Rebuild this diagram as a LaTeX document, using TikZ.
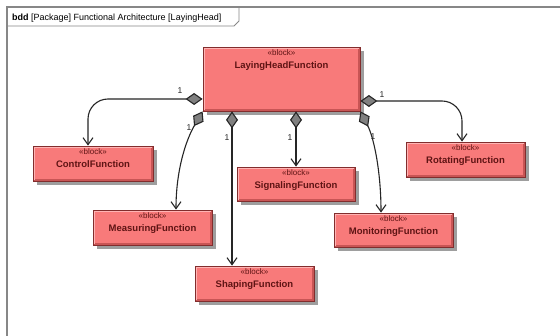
\documentclass[tikz,border=0pt]{standalone}
\usepackage{fontspec}
\setmainfont{Liberation Sans}
\usetikzlibrary{arrows.meta,shadows,calc}
\definecolor{blkfill}{RGB}{248,122,122}
\definecolor{blkdraw}{RGB}{130,45,45}
\definecolor{blktext}{RGB}{95,20,20}
\definecolor{blkhi}{RGB}{255,180,180}
\definecolor{blklo}{RGB}{200,85,85}
\definecolor{framecol}{RGB}{135,135,135}
\tikzset{
  blk/.style={draw=blkdraw, line width=0.8pt, fill=blkfill, inner sep=0pt,
    drop shadow={shadow xshift=4pt, shadow yshift=-4pt, opacity=0.38, fill=black},
    path picture={
      \draw[blklo, line width=1.6pt] ([xshift=1pt,yshift=1pt]path picture bounding box.south west) -| ([xshift=-1pt,yshift=-1pt]path picture bounding box.north east);
      \draw[blkhi, line width=1.6pt] ([xshift=1pt,yshift=1pt]path picture bounding box.south west) |- ([xshift=-1pt,yshift=-1pt]path picture bounding box.north east);
    }},
  blabel/.style={anchor=north, align=center, text=blktext, inner sep=0pt},
  comp/.style={draw=black!85, line width=1.1pt,
    {Diamond[length=17pt,width=12pt,fill=black!50]}-{Straight Barb[length=7pt,width=10pt]}},
  mult/.style={font=\fontsize{8.5}{9}\selectfont, text=black!85, inner sep=0pt}
}
\newcommand{\blktxt}[1]{{\fontsize{8}{9}\selectfont «block»}\\[0.5pt]{\fontsize{9.5}{11}\selectfont\bfseries #1}}
\begin{document}
\begin{tikzpicture}[x=1pt,y=-1pt]
\useasboundingbox (0,0) rectangle (560,336);
\fill[white] (0,0) rectangle (560,336);
% frame
\draw[framecol, line width=1.3pt] (7,336) -- (7,7) -- (560,7);
\draw[framecol, line width=0.8pt] (7,26) -- (234,26) -- (239,21) -- (239,7);
\node[anchor=base west, font=\fontsize{9}{10}\selectfont, inner sep=0pt] (title) at (12,20.5) {\textbf{bdd} [Package] Functional Architecture [LayingHead]};
% blocks
\node[blk, minimum width=157pt, minimum height=64pt] (lhf) at (281.5,79) {};
\node[blabel] (lhft) at ($(lhf.north)+(0,3)$) {\blktxt{LayingHeadFunction}};
\node[blk, minimum width=120pt, minimum height=35pt] (ctrl) at (93,163.5) {};
\node[blabel] (ctrlt) at ($(ctrl.north)+(0,3)$) {\blktxt{ControlFunction}};
\node[blk, minimum width=119pt, minimum height=35pt] (meas) at (152.5,227.5) {};
\node[blabel] (meast) at ($(meas.north)+(0,3)$) {\blktxt{MeasuringFunction}};
\node[blk, minimum width=118pt, minimum height=34pt] (sig) at (296,184) {};
\node[blabel] (sigt) at ($(sig.north)+(0,3)$) {\blktxt{SignalingFunction}};
\node[blk, minimum width=119pt, minimum height=35pt] (rot) at (465.5,159.5) {};
\node[blabel] (rott) at ($(rot.north)+(0,3)$) {\blktxt{RotatingFunction}};
\node[blk, minimum width=119pt, minimum height=34pt] (mon) at (393.5,230) {};
\node[blabel] (mont) at ($(mon.north)+(0,3)$) {\blktxt{MonitoringFunction}};
\node[blk, minimum width=119pt, minimum height=35pt] (shap) at (254.5,283.5) {};
\node[blabel] (shapt) at ($(shap.north)+(0,3)$) {\blktxt{ShapingFunction}};
% connectors
\coordinate (c1) at ($(ctrl.north)+(-5,0)$);
\draw[comp, rounded corners=20pt] ($(lhf.west)+(0,20)$) -| (c1);
\coordinate (c2) at ($(meas.north)+(23.5,0)$);
\draw[comp] (lhf.south west) .. controls (186,140) and (176,170) .. (c2);
\coordinate (c3) at ($(shap.north)+(-22.5,0)$);
\draw[comp] (lhf.south -| c3) -- (c3);
\draw[comp] (lhf.south -| sig.north) -- (sig.north);
\coordinate (c5) at ($(mon.north)+(-12.5,0)$);
\draw[comp] (lhf.south east) .. controls (374,138) and (381,172) .. (c5);
\coordinate (c6) at ($(rot.north)+(-3.5,0)$);
\draw[comp, rounded corners=20pt] ($(lhf.east)+(0,22)$) -| (c6);
% multiplicities
\node[mult] (m1) at (180,91) {1};
\node[mult] (m2) at (189,128) {1};
\node[mult] (m3) at (227,138) {1};
\node[mult] (m4) at (290,138) {1};
\node[mult] (m5) at (373,137) {1};
\node[mult] (m6) at (382,95) {1};
\end{tikzpicture}
\end{document}
